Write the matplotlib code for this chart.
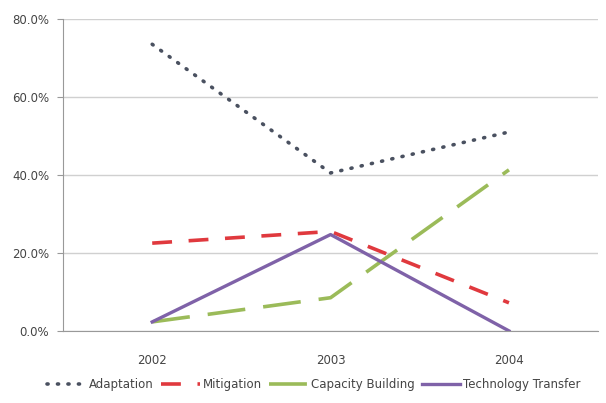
import matplotlib.pyplot as plt
from matplotlib.ticker import FuncFormatter

# categories and series values (percent)
years = ['2002', '2003', '2004']
adaptation = [73.5, 40.5, 51.0]
mitigation = [22.5, 25.5, 7.2]
capacity = [2.3, 8.5, 41.3]
techTransfer = [2.3, 24.7, 0.0]

fig = plt.figure(figsize=(6.06, 4.03), dpi=100)
ax = fig.add_axes([0.104, 0.179, 0.883, 0.774])

x = range(len(years))
ax.plot(x, adaptation, color='#4a5160', linestyle=(0, (0.3, 2.6)), linewidth=2.6,
        dash_capstyle='round', label='Adaptation')
ax.plot(x, mitigation, color='#e0393e', linestyle=(0, (5.5, 4.6)), linewidth=2.6,
        label='Mitigation')
ax.plot(x, capacity, color='#9bbb59', linestyle=(0, (10.5, 5)), linewidth=2.6,
        label='Capacity Building')
ax.plot(x, techTransfer, color='#7f62a8', linewidth=2.4,
        label='Technology Transfer')

ax.set_xlim(-0.5, 2.5)
ax.set_ylim(0, 80)
ax.set_xticks(list(x))
ax.set_xticklabels(years)
ax.set_yticks([0, 20, 40, 60, 80])
ax.yaxis.set_major_formatter(FuncFormatter(lambda v, p: '%.1f%%' % v))
ax.yaxis.grid(True, color='#d0d0d0', linewidth=1)
ax.set_axisbelow(True)

for s in ['top', 'right']:
    ax.spines[s].set_visible(False)
ax.spines['left'].set_color('#999999')
ax.spines['bottom'].set_color('#999999')
ax.tick_params(axis='y', labelsize=8.5, colors='#444444', length=4, color='#999999', pad=6)
ax.tick_params(axis='x', labelsize=8.5, colors='#444444', length=0, pad=17)

fig.legend(loc='center', bbox_to_anchor=(0.518, 0.045), ncol=4, frameon=False,
           fontsize=8.5, handlelength=3.3, handletextpad=0.25, columnspacing=0.6,
           labelcolor='#444444')

fig.savefig('out.png', dpi=100)
